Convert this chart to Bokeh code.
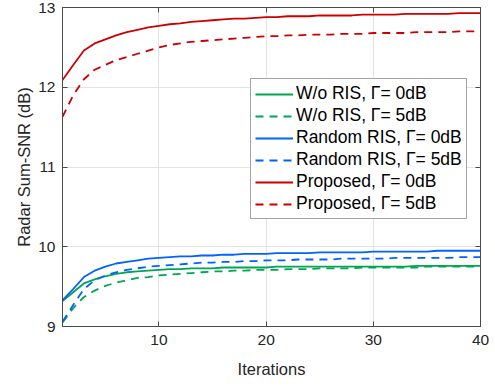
from bokeh.plotting import figure
from bokeh.models import Range1d, FixedTicker, LinearAxis, Legend, LegendItem
from bokeh.embed import file_html
from bokeh.resources import INLINE

iterations = list(range(1, 41))

wo_ris_0db = [9.32, 9.43, 9.54, 9.59, 9.63, 9.66, 9.68, 9.69, 9.70, 9.71,
              9.72, 9.72, 9.73, 9.73, 9.73, 9.74, 9.74, 9.74, 9.74, 9.74,
              9.75, 9.75, 9.75, 9.75, 9.75, 9.75, 9.75, 9.75, 9.75, 9.75,
              9.75, 9.75, 9.75, 9.76, 9.76, 9.76, 9.76, 9.76, 9.76, 9.76]
wo_ris_5db = [9.05, 9.23, 9.37, 9.45, 9.51, 9.55, 9.58, 9.61, 9.62, 9.64,
              9.65, 9.66, 9.67, 9.68, 9.69, 9.69, 9.70, 9.70, 9.71, 9.71,
              9.71, 9.72, 9.72, 9.72, 9.73, 9.73, 9.73, 9.73, 9.74, 9.74,
              9.74, 9.74, 9.74, 9.74, 9.75, 9.75, 9.75, 9.75, 9.75, 9.75]
random_0db = [9.33, 9.47, 9.62, 9.70, 9.75, 9.79, 9.81, 9.83, 9.85, 9.86,
              9.87, 9.88, 9.88, 9.89, 9.89, 9.90, 9.90, 9.91, 9.91, 9.91,
              9.92, 9.92, 9.92, 9.92, 9.93, 9.93, 9.93, 9.93, 9.93, 9.94,
              9.94, 9.94, 9.94, 9.94, 9.94, 9.95, 9.95, 9.95, 9.95, 9.95]
random_5db = [9.06, 9.27, 9.47, 9.58, 9.64, 9.68, 9.71, 9.73, 9.75, 9.76,
              9.77, 9.78, 9.79, 9.80, 9.80, 9.81, 9.81, 9.82, 9.82, 9.83,
              9.83, 9.83, 9.84, 9.84, 9.84, 9.84, 9.85, 9.85, 9.85, 9.85,
              9.85, 9.86, 9.86, 9.86, 9.86, 9.86, 9.86, 9.87, 9.87, 9.87]
proposed_0db = [12.09, 12.28, 12.46, 12.55, 12.60, 12.65, 12.69, 12.72, 12.75, 12.77,
                12.79, 12.80, 12.82, 12.83, 12.84, 12.85, 12.86, 12.86, 12.87, 12.88,
                12.88, 12.89, 12.89, 12.89, 12.90, 12.90, 12.90, 12.90, 12.91, 12.91,
                12.91, 12.91, 12.92, 12.92, 12.92, 12.92, 12.92, 12.93, 12.93, 12.93]
proposed_5db = [11.63, 11.90, 12.10, 12.22, 12.28, 12.34, 12.38, 12.42, 12.46, 12.50,
                12.53, 12.55, 12.57, 12.58, 12.59, 12.60, 12.61, 12.62, 12.63, 12.64,
                12.64, 12.65, 12.65, 12.66, 12.66, 12.66, 12.67, 12.67, 12.67, 12.68,
                12.68, 12.68, 12.68, 12.69, 12.69, 12.69, 12.69, 12.70, 12.70, 12.70]

x_ticks = [10, 20, 30, 40]
y_ticks = [9, 10, 11, 12, 13]

GREEN = "#00a651"
BLUE = "#0062ff"
RED = "#cc0000"
FONT = "Liberation Sans"
AX = "#4a4a4a"
TXT = "#262626"

p = figure(width=495, height=386, output_backend="svg", toolbar_location=None,
           x_range=Range1d(1, 40), y_range=Range1d(9, 13),
           min_border_left=62, min_border_right=15, min_border_top=7, min_border_bottom=60)
p.outline_line_color = AX
p.outline_line_width = 1
p.background_fill_color = "white"
p.border_fill_color = "white"

for ax in (p.xaxis[0], p.yaxis[0]):
    ax.major_tick_in = 5
    ax.major_tick_out = 0
    ax.minor_tick_line_color = None
    ax.axis_line_color = AX
    ax.major_tick_line_color = AX
    ax.major_label_text_font = FONT
    ax.major_label_text_font_size = "15.5px"
    ax.major_label_text_color = TXT
    ax.axis_label_text_font = FONT
    ax.axis_label_text_font_size = "16.5px"
    ax.axis_label_text_color = TXT
    ax.axis_label_text_font_style = "normal"

p.xaxis.ticker = FixedTicker(ticks=x_ticks)
p.yaxis.ticker = FixedTicker(ticks=y_ticks)
p.xaxis.axis_label = "Iterations"
p.yaxis.axis_label = "Radar Sum-SNR (dB)"
p.xaxis.major_label_standoff = 8
p.xaxis.axis_label_standoff = 12
p.yaxis.major_label_standoff = 7
p.yaxis.axis_label_standoff = 2

top = LinearAxis(ticker=FixedTicker(ticks=x_ticks), major_tick_in=5, major_tick_out=0,
                 minor_tick_line_color=None, axis_line_color=AX, major_tick_line_color=AX,
                 major_label_overrides={t: "" for t in x_ticks}, major_label_standoff=0)
right = LinearAxis(ticker=FixedTicker(ticks=y_ticks), major_tick_in=5, major_tick_out=0,
                   minor_tick_line_color=None, axis_line_color=AX, major_tick_line_color=AX,
                   major_label_overrides={t: "" for t in y_ticks}, major_label_standoff=0)
p.add_layout(top, "above")
p.add_layout(right, "right")

p.xgrid.grid_line_color = "#e3e3e3"
p.ygrid.grid_line_color = "#e3e3e3"
p.xgrid.ticker = FixedTicker(ticks=x_ticks)
p.ygrid.ticker = FixedTicker(ticks=y_ticks)

series = [
    ("W/o RIS, \u0393= 0dB", wo_ris_0db, GREEN, "solid"),
    ("W/o RIS, \u0393= 5dB", wo_ris_5db, GREEN, "8 6"),
    ("Random RIS, \u0393= 0dB", random_0db, BLUE, "solid"),
    ("Random RIS, \u0393= 5dB", random_5db, BLUE, "8 6"),
    ("Proposed, \u0393= 0dB", proposed_0db, RED, "solid"),
    ("Proposed, \u0393= 5dB", proposed_5db, RED, "8 6"),
]

items = []
for label, ys, color, dash in series:
    r = p.line(iterations, ys, line_color=color, line_width=1.8, line_dash=dash)
    items.append(LegendItem(label=label, renderers=[r]))

legend = Legend(items=items, location=(188, 107))
legend.label_text_font = FONT
legend.label_text_font_size = "17.5px"
legend.label_text_color = "black"
legend.border_line_color = AX
legend.border_line_width = 1
legend.background_fill_color = "white"
legend.background_fill_alpha = 1
legend.glyph_width = 38
legend.glyph_height = 20
legend.label_height = 20
legend.label_standoff = 3
legend.spacing = 1
legend.padding = 4
legend.margin = 0
p.add_layout(legend, "center")

open("out.html", "w").write(file_html(p, INLINE))
